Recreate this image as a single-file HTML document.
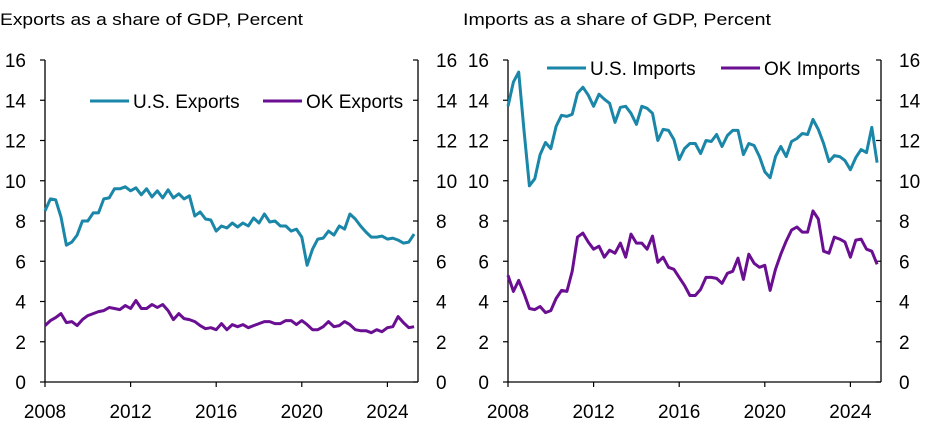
<!DOCTYPE html>
<html><head><meta charset="utf-8"><style>
html,body{margin:0;padding:0;background:#fff;}
svg{display:block;font-family:"Liberation Sans",sans-serif;}
</style></head><body>
<svg id="s" width="925" height="426" viewBox="0 0 925 426" xmlns="http://www.w3.org/2000/svg">
<text x="0" y="25" font-size="17" fill="#000" textLength="303" lengthAdjust="spacingAndGlyphs">Exports as a share of GDP, Percent</text>
<text x="463" y="25" font-size="17" fill="#000" textLength="308" lengthAdjust="spacingAndGlyphs">Imports as a share of GDP, Percent</text>
</svg>
<script>
const s=document.getElementById('s');
const NS='http://www.w3.org/2000/svg';
function el(t,a,txt){const e=document.createElementNS(NS,t);for(const k in a)e.setAttribute(k,a[k]);if(txt!==undefined)e.textContent=txt;s.appendChild(e);return e;}
const TEAL='#1a86a8',PURP='#6a0e92';
const usx=[8.5,9.1,9.05,8.2,6.8,6.95,7.3,8.0,8.0,8.4,8.4,9.1,9.15,9.6,9.6,9.7,9.5,9.65,9.3,9.6,9.2,9.5,9.15,9.55,9.15,9.35,9.1,9.25,8.25,8.45,8.1,8.05,7.5,7.75,7.65,7.9,7.7,7.9,7.75,8.15,7.9,8.35,7.95,8.0,7.75,7.75,7.5,7.6,7.2,5.8,6.6,7.1,7.15,7.5,7.3,7.75,7.6,8.35,8.1,7.75,7.45,7.2,7.2,7.25,7.1,7.15,7.05,6.9,6.95,7.35];
const okx=[2.8,3.05,3.2,3.4,2.95,3.0,2.8,3.1,3.3,3.4,3.5,3.55,3.7,3.65,3.6,3.8,3.65,4.05,3.65,3.65,3.85,3.7,3.85,3.55,3.1,3.4,3.15,3.1,3.0,2.8,2.65,2.7,2.6,2.9,2.6,2.85,2.75,2.85,2.7,2.8,2.9,3.0,3.0,2.9,2.9,3.05,3.05,2.85,3.05,2.85,2.6,2.6,2.75,3.0,2.75,2.8,3.0,2.85,2.6,2.55,2.55,2.45,2.6,2.5,2.7,2.75,3.25,2.95,2.7,2.75];
const usm=[13.7,14.9,15.4,12.5,9.75,10.1,11.3,11.9,11.6,12.7,13.25,13.2,13.3,14.35,14.65,14.25,13.7,14.3,14.05,13.85,12.9,13.65,13.7,13.35,12.8,13.7,13.6,13.35,12.0,12.55,12.5,12.05,11.05,11.6,11.85,11.85,11.35,12.0,11.95,12.3,11.7,12.25,12.5,12.5,11.3,11.85,11.75,11.2,10.45,10.15,11.2,11.7,11.2,11.95,12.1,12.35,12.3,13.05,12.55,11.85,10.95,11.25,11.2,11.0,10.55,11.15,11.55,11.4,12.65,10.9];
const okm=[5.3,4.5,5.05,4.4,3.65,3.6,3.75,3.45,3.55,4.15,4.55,4.5,5.5,7.2,7.4,6.95,6.6,6.75,6.2,6.55,6.4,6.9,6.2,7.35,6.9,6.9,6.6,7.25,5.95,6.2,5.7,5.6,5.2,4.8,4.3,4.3,4.6,5.2,5.2,5.15,4.9,5.4,5.5,6.15,5.1,6.35,5.9,5.7,5.8,4.55,5.6,6.35,7.0,7.55,7.7,7.45,7.45,8.5,8.1,6.5,6.4,7.2,7.1,6.95,6.2,7.05,7.1,6.6,6.5,5.85];
function panel(x0,x1,lblL,lblR,series,leg){
  const y0=382,yT=60,py=(y0-yT)/16,yr=21.4;
  const Y=v=>y0-v*py;
  el('line',{x1:x0,y1:yT,x2:x0,y2:y0,stroke:'#000','stroke-width':1.3});
  el('line',{x1:x1,y1:yT,x2:x1,y2:y0,stroke:'#000','stroke-width':1.3});
  el('line',{x1:x0,y1:y0,x2:x1,y2:y0,stroke:'#000','stroke-width':1.3});
  for(let v=0;v<=16;v+=2){const y=Y(v);
    el('line',{x1:x0-5,y1:y,x2:x0,y2:y,stroke:'#000','stroke-width':1.2});
    el('line',{x1:x1-5,y1:y,x2:x1,y2:y,stroke:'#000','stroke-width':1.2});
    el('text',{x:lblL,y:y+7,'font-size':19,'text-anchor':'end',fill:'#000'},v);
    el('text',{x:lblR,y:y+7,'font-size':19,fill:'#000'},v);
  }
  for(let i=0;i<=4;i++){const x=x0+i*4*yr;
    el('line',{x1:x,y1:y0,x2:x,y2:y0+5,stroke:'#000','stroke-width':1.2});
    el('text',{x:x,y:418,'font-size':19,'text-anchor':'middle',fill:'#000'},2008+i*4);
  }
  for(const [d,c] of series){
    const pts=d.map((v,i)=>(x0+i*yr/4).toFixed(1)+','+Y(v).toFixed(1)).join(' ');
    el('polyline',{points:pts,fill:'none',stroke:c,'stroke-width':3,'stroke-linejoin':'round'});
  }
  for(const [lx,ly,c,t] of leg){
    el('line',{x1:lx,y1:ly,x2:lx+39,y2:ly,stroke:c,'stroke-width':3});
    el('text',{x:lx+43,y:ly+7,'font-size':19,fill:'#000'},t);
  }
}
panel(45,418,26,436,[[usx,TEAL],[okx,PURP]],[[90,101,TEAL,'U.S. Exports'],[263,101,PURP,'OK Exports']]);
panel(508,881,489,899,[[usm,TEAL],[okm,PURP]],[[547,68,TEAL,'U.S. Imports'],[721,68,PURP,'OK Imports']]);
</script>
</body></html>
